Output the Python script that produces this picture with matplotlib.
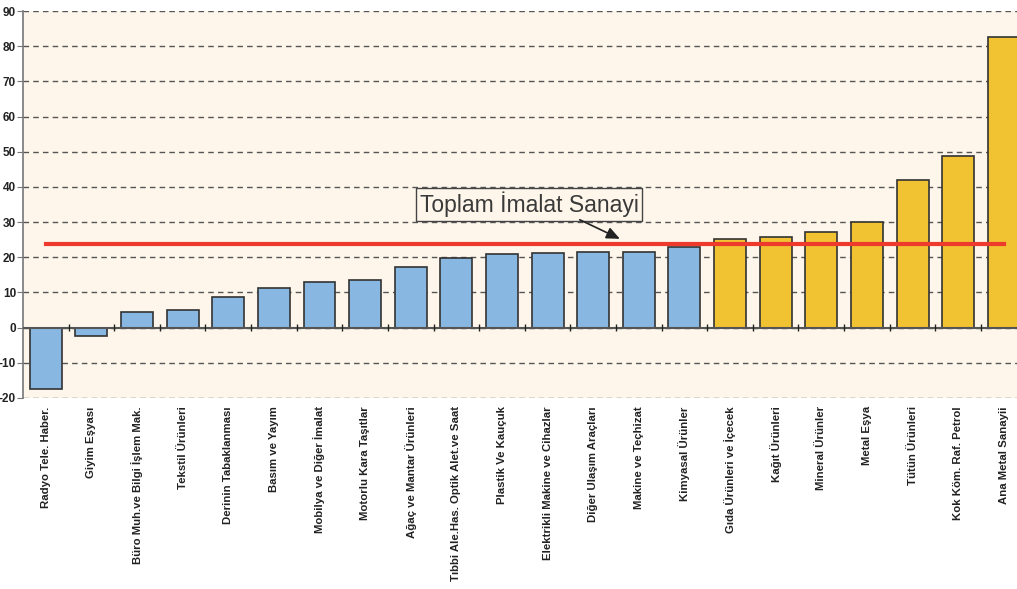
import matplotlib
matplotlib.use("Agg")
import matplotlib.pyplot as plt
import numpy as np

# sectors, sorted by growth
sectors = ["Radyo Tele. Haber.", "Giyim Eşyası", "Büro Muh.ve Bilgi İşlem Mak.",
           "Tekstil Ürünleri", "Derinin Tabaklanması", "Basım ve Yayım",
           "Mobilya ve Diğer İmalat", "Motorlu Kara Taşıtlar", "Ağaç ve Mantar Ürünleri",
           "Tıbbi Ale.Has. Optik Alet.ve Saat", "Plastik Ve Kauçuk",
           "Elektrikli Makine ve Cihazlar", "Diğer Ulaşım Araçları", "Makine ve Teçhizat",
           "Kimyasal Ürünler", "Gıda Ürünleri ve İçecek", "Kağıt Ürünleri",
           "Mineral Ürünler", "Metal Eşya", "Tütün Ürünleri", "Kok Köm. Raf. Petrol",
           "Ana Metal Sanayii"]
values = [-17.4, -2.5, 4.4, 4.9, 8.6, 11.4, 12.9, 13.6, 17.2, 19.8, 20.8, 21.1,
          21.4, 21.5, 23.0, 25.3, 25.9, 27.1, 30.1, 42.0, 48.8, 82.6]
total = 23.8  # Toplam İmalat Sanayi
yticks = list(range(-20, 91, 10))

plt.rcParams['font.family'] = ['Liberation Sans', 'DejaVu Sans']
plt.rcParams['axes.unicode_minus'] = False

x = np.arange(len(sectors))
colors = ["#88B8E2" if v < total else "#F1C232" for v in values]

fig = plt.figure(figsize=(10.17, 5.89), dpi=100)
ax = fig.add_axes([0.0226, 0.3243, 0.9774, 0.657])
ax.set_facecolor("#FEF6EA")

ax.bar(x, values, width=0.7, color=colors, edgecolor="#333333", linewidth=1.2, zorder=3)

# zero line with category tick marks
ax.axhline(0, color="#555555", linewidth=1.5, zorder=4)
ax.vlines(x[:-1] + 0.5, -1.1, 1.1, color="#222222", linewidth=1, zorder=4)

# total line
ax.plot([x[0], x[-1]], [total, total], color="#EE3A2C", linewidth=3, zorder=5)

ax.text(10.6, 35.0, "Toplam İmalat Sanayi", ha="center", va="center", fontsize=16.5,
        color="#3a3a3a",
        bbox=dict(boxstyle="square,pad=0.15", facecolor="#FEF6EA", edgecolor="#444444",
                  linewidth=1), zorder=6)
ax.annotate("", xy=(12.64, 24.9), xytext=(11.65, 31.0),
            arrowprops=dict(arrowstyle="-|>,head_length=0.8,head_width=0.35",
                            color="#222222", linewidth=1.2), zorder=6)

ax.set_ylim(-20, 90)
ax.set_xlim(-0.5, 21.29)
ax.set_yticks(yticks)
ax.yaxis.grid(True, linestyle=(0, (4, 3)), color="#555555", linewidth=1)
ax.set_axisbelow(True)
for s in ["top", "right", "bottom"]:
    ax.spines[s].set_visible(False)
ax.spines["left"].set_color("#777777")
ax.spines["left"].set_linewidth(1.2)

ax.set_xticks(x)
ax.set_xticklabels(sectors, rotation=90, fontsize=8.2, fontweight="bold", color="#222222",
                   va="top", ha="center")
ax.tick_params(axis="x", length=0, pad=6)
ax.tick_params(axis="y", length=4, color="#777777", labelsize=8.5, pad=1)
for lab in ax.get_yticklabels():
    lab.set_fontweight("bold")
    lab.set_color("#222222")

fig.savefig("out.png", dpi=100)
